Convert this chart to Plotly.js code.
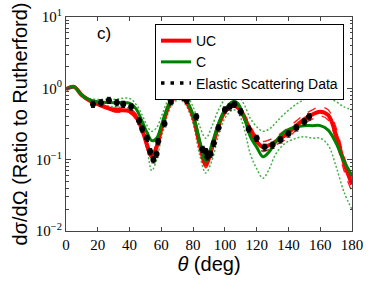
<!DOCTYPE html>
<html>
<head>
<meta charset="utf-8">
<script src="https://cdn.plot.ly/plotly-3.0.1.min.js"></script>
<style>html,body{margin:0;padding:0;background:#fff;}#chart{width:374px;height:282px;}</style>
</head>
<body>
<div id="chart"></div>
<script>
var theta = [0, 5, 10, 15, 20, 30, 40, 44, 48, 51, 54, 57, 60, 63, 66, 71, 75, 80, 84, 88, 92, 96, 100, 105, 108, 112, 116, 120, 124, 128, 132, 138, 145, 150, 155, 160, 165, 170, 175, 180];
var ucVal = [0.97,1.05,0.8,0.67,0.6,0.5,0.48,0.4,0.26,0.16,0.11,0.15,0.27,0.45,0.65,0.79,0.68,0.4,0.17,0.085,0.15,0.3,0.47,0.58,0.55,0.4,0.26,0.18,0.15,0.16,0.18,0.22,0.3,0.37,0.43,0.47,0.42,0.22,0.09,0.045];
var ucHi = [0.97,1.05,0.81,0.69,0.62,0.53,0.52,0.44,0.29,0.18,0.125,0.17,0.3,0.48,0.68,0.82,0.71,0.43,0.19,0.095,0.17,0.33,0.5,0.62,0.6,0.45,0.3,0.21,0.18,0.19,0.21,0.26,0.35,0.43,0.5,0.55,0.5,0.28,0.11,0.055];
var ucLo = [0.97,1.05,0.79,0.65,0.58,0.47,0.45,0.37,0.23,0.14,0.098,0.13,0.24,0.42,0.62,0.76,0.65,0.37,0.15,0.077,0.13,0.27,0.44,0.55,0.51,0.36,0.23,0.16,0.13,0.14,0.16,0.19,0.26,0.32,0.37,0.41,0.36,0.18,0.07,0.035];
var cVal = [0.97,1.05,0.8,0.69,0.65,0.63,0.62,0.52,0.34,0.24,0.185,0.2,0.3,0.48,0.66,0.82,0.72,0.42,0.19,0.095,0.17,0.32,0.5,0.65,0.62,0.4,0.21,0.15,0.11,0.13,0.18,0.25,0.29,0.3,0.3,0.3,0.26,0.17,0.095,0.06];
var cHi = [0.97,1.05,0.82,0.72,0.7,0.7,0.72,0.6,0.42,0.3,0.25,0.28,0.4,0.6,0.8,0.95,0.85,0.55,0.3,0.2,0.3,0.5,0.7,0.82,0.8,0.6,0.38,0.29,0.25,0.27,0.33,0.45,0.6,0.7,0.78,0.8,0.75,0.65,0.55,0.5];
var cLo = [0.97,1.05,0.78,0.66,0.6,0.55,0.52,0.42,0.25,0.14,0.07,0.1,0.2,0.36,0.55,0.7,0.6,0.32,0.12,0.065,0.1,0.22,0.38,0.5,0.47,0.28,0.12,0.075,0.055,0.075,0.12,0.17,0.2,0.21,0.2,0.2,0.16,0.08,0.035,0.02];
var dataTheta = [17,22,27,32,36,41,46,48,51,53,55,57,58,62,66,70,72,74,76,82,86,88,89,91,93,96,100,103,106,110,115,120,125,130,135,140,145,150,153];
var dataVal = [0.6,0.63,0.68,0.63,0.6,0.55,0.35,0.27,0.2,0.13,0.1,0.12,0.18,0.32,0.65,0.78,0.8,0.75,0.68,0.4,0.14,0.13,0.11,0.12,0.17,0.28,0.5,0.55,0.6,0.47,0.27,0.2,0.15,0.16,0.19,0.23,0.28,0.34,0.4];
var legendNames = ['UC', 'C', 'Elastic Scattering Data'];
var yTickVals = [0.01, 0.1, 1, 10];
var yTickText = ['10<sup>−2</sup>', '10<sup>−1</sup>', '10<sup>0</sup>', '10<sup>1</sup>'];

function band(y, color, dash, w) {
  return {x: theta, y: y, mode: 'lines', line: {color: color, dash: dash, width: w, shape: 'spline'}, showlegend: false, hoverinfo: 'skip'};
}
var traces = [
  band(cHi, '#45b045', '2px,2px', 1.5),
  band(cLo, '#45b045', '2px,2px', 1.5),
  band(ucHi, '#ff2020', 'dash', 1.4),
  band(ucLo, '#ff2020', 'dash', 1.4),
  {x: theta, y: ucVal, mode: 'lines', name: legendNames[0], line: {color: '#ff0000', width: 4, shape: 'spline'}},
  {x: theta, y: cVal, mode: 'lines', name: legendNames[1], line: {color: '#008000', width: 3, shape: 'spline'}},
  {x: dataTheta, y: dataVal, mode: 'markers', name: legendNames[2], showlegend: false,
   marker: {color: '#000', size: 6}, error_y: {type: 'percent', value: 10, color: '#000', thickness: 1, width: 2}},
  {x: [null], y: [null], mode: 'lines', name: legendNames[2], line: {color: '#000', width: 3.5, dash: '3.5px,6px'}}
];
var tickFont = {family: 'Liberation Serif, DejaVu Serif, serif', size: 15, color: '#000'};
var titleFont = {family: 'Liberation Sans, Arial, sans-serif', size: 20, color: '#000'};
var layout = {
  width: 374, height: 282,
  margin: {l: 66, r: 22, t: 17, b: 51},
  paper_bgcolor: '#fff', plot_bgcolor: '#fff',
  showlegend: true,
  legend: {x: 0.972, y: 0.967, xanchor: 'right', yanchor: 'top', bordercolor: '#000', borderwidth: 1,
           bgcolor: '#fff', font: {family: 'Liberation Sans, Arial, sans-serif', size: 14, color: '#000'},
           tracegroupgap: 0, itemwidth: 30},
  xaxis: {range: [0, 180], dtick: 20, ticks: 'inside', ticklen: 4, tickcolor: '#444', mirror: 'ticks',
          showline: true, linecolor: '#444', linewidth: 1, showgrid: false, zeroline: false,
          tickfont: tickFont,
          title: {text: '<i>θ</i> (deg)', font: titleFont, standoff: 2}},
  yaxis: {type: 'log', range: [-2, 1], tickmode: 'array', tickvals: yTickVals, ticktext: yTickText,
          ticks: 'inside', ticklen: 5, tickcolor: '#444',
          mirror: 'ticks', showline: true, linecolor: '#444', linewidth: 1, showgrid: false, zeroline: false,
          tickfont: tickFont,
          minor: {ticks: 'inside', ticklen: 2.5, tickcolor: '#444', dtick: 'D1', showgrid: false},
          title: {text: 'dσ/dΩ (Ratio to Rutherford)', font: titleFont, standoff: 2}},
  annotations: [{text: 'c)', xref: 'paper', yref: 'paper', x: 0.133, y: 0.925, xanchor: 'center', yanchor: 'middle', showarrow: false,
                 font: {family: 'Liberation Sans, Arial, sans-serif', size: 17, color: '#000'}}]
};
Plotly.newPlot('chart', traces, layout, {staticPlot: true, displayModeBar: false});
</script>
</body>
</html>
